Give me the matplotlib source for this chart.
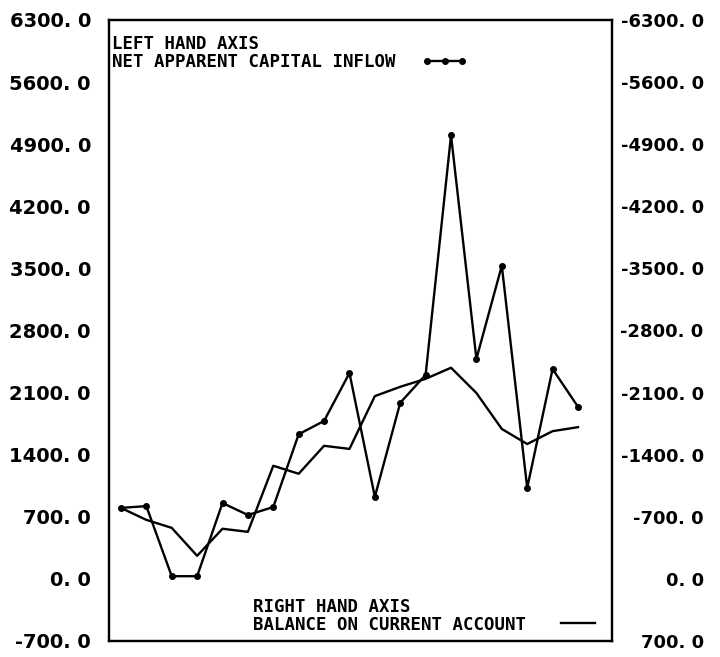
import numpy as np
import matplotlib
matplotlib.use('Agg')
import matplotlib.pyplot as plt
from matplotlib import rc

rc('font', family='DejaVu Sans Mono', weight='bold', size=12.5)

# =============================================================================
# Data
# =============================================================================
years = list(range(19))
# left hand axis
capital_inflow = [800, 820, 30, 30, 855, 720, 810, 1630, 1780, 2320, 925,
                  1985, 2300, 5000, 2480, 3530, 1025, 2365, 1940]
# right hand axis
current_account = [800, 665, 575, 260, 565, 530, 1275, 1185, 1500, 1465,
                   2060, 2165, 2255, 2380, 2095, 1690, 1520, 1665, 1710]

ticks = [-700, 0, 700, 1400, 2100, 2800, 3500, 4200, 4900, 5600, 6300]
left_labels = ['-700. 0', '0. 0', '700. 0', '1400. 0', '2100. 0', '2800. 0',
               '3500. 0', '4200. 0', '4900. 0', '5600. 0', '6300. 0']
right_labels = ['700. 0', '0. 0', '-700. 0', '-1400. 0', '-2100. 0', '-2800. 0',
                '-3500. 0', '-4200. 0', '-4900. 0', '-5600. 0', '-6300. 0']

# =============================================================================
# Figure
# =============================================================================
fig = plt.figure(figsize=(7.2, 6.57), dpi=100)
ax = fig.add_axes([0.1514, 0.0244, 0.6986, 0.9452])
ax2 = ax.twinx()

l1, = ax.plot(years, capital_inflow, 'k-', marker='o', ms=4, lw=1.7,
              label='NET APPARENT CAPITAL INFLOW')
l2, = ax2.plot(years, current_account, 'k-', lw=1.7,
               label='BALANCE ON CURRENT ACCOUNT')

for a in (ax, ax2):
    a.set_xlim(-0.47, 19.34)
    a.set_ylim(-700, 6300)
    a.set_xticks([])
    for s in a.spines.values():
        s.set_linewidth(1.6)

# tick labels in a plain sans face
ax.set_yticks(ticks, left_labels, fontsize=14, family='DejaVu Sans', weight='bold')
ax.tick_params(axis='y', length=0, pad=13)
ax2.set_yticks(ticks, right_labels, fontsize=13, family='DejaVu Sans', weight='bold')
ax2.tick_params(axis='y', length=0, pad=66)
for t in ax2.get_yticklabels():
    t.set_horizontalalignment('right')

leg1 = ax.legend(handles=[l1], title='LEFT HAND AXIS', loc='upper left',
                 bbox_to_anchor=(0.005, 0.975), frameon=False, markerfirst=False,
                 numpoints=3, handlelength=2.6, handletextpad=1.55,
                 labelspacing=0, borderpad=0, borderaxespad=0, alignment='left',
                 title_fontproperties={'weight': 'bold', 'size': 12.5})
leg2 = ax2.legend(handles=[l2], title='RIGHT HAND AXIS', loc='lower left',
                  bbox_to_anchor=(0.286, 0.012), frameon=False, markerfirst=False,
                  handlelength=2.0, handletextpad=2.0,
                  labelspacing=0, borderpad=0, borderaxespad=0, alignment='left',
                  title_fontproperties={'weight': 'bold', 'size': 12.5})

fig.savefig('out.png', dpi=100)
